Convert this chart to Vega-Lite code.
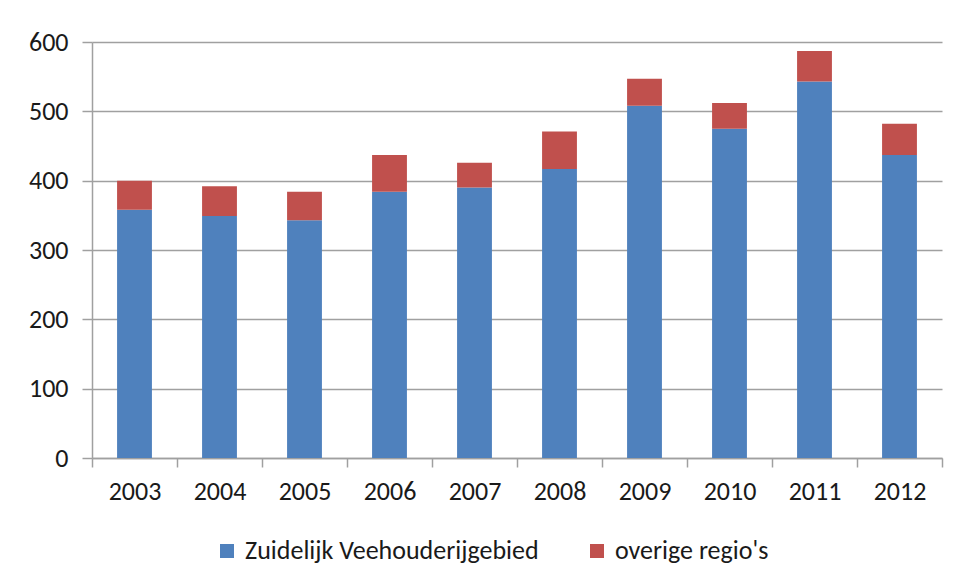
{
  "$schema": "https://vega.github.io/schema/vega-lite/v6.json",
  "width": 850,
  "height": 416,
  "autosize": {"type": "none"},
  "padding": {"left": 92, "top": 42, "right": 17, "bottom": 125},
  "background": "white",
  "data": {
    "values": [
      {"jaar": "2003", "regio": "Zuidelijk Veehouderijgebied", "aantal": 358},
      {"jaar": "2003", "regio": "overige regio's", "aantal": 42},
      {"jaar": "2004", "regio": "Zuidelijk Veehouderijgebied", "aantal": 349},
      {"jaar": "2004", "regio": "overige regio's", "aantal": 43},
      {"jaar": "2005", "regio": "Zuidelijk Veehouderijgebied", "aantal": 343},
      {"jaar": "2005", "regio": "overige regio's", "aantal": 41},
      {"jaar": "2006", "regio": "Zuidelijk Veehouderijgebied", "aantal": 384},
      {"jaar": "2006", "regio": "overige regio's", "aantal": 53},
      {"jaar": "2007", "regio": "Zuidelijk Veehouderijgebied", "aantal": 390},
      {"jaar": "2007", "regio": "overige regio's", "aantal": 36},
      {"jaar": "2008", "regio": "Zuidelijk Veehouderijgebied", "aantal": 417},
      {"jaar": "2008", "regio": "overige regio's", "aantal": 54},
      {"jaar": "2009", "regio": "Zuidelijk Veehouderijgebied", "aantal": 508},
      {"jaar": "2009", "regio": "overige regio's", "aantal": 39},
      {"jaar": "2010", "regio": "Zuidelijk Veehouderijgebied", "aantal": 475},
      {"jaar": "2010", "regio": "overige regio's", "aantal": 37},
      {"jaar": "2011", "regio": "Zuidelijk Veehouderijgebied", "aantal": 543},
      {"jaar": "2011", "regio": "overige regio's", "aantal": 44},
      {"jaar": "2012", "regio": "Zuidelijk Veehouderijgebied", "aantal": 437},
      {"jaar": "2012", "regio": "overige regio's", "aantal": 45}
    ]
  },
  "mark": {"type": "bar", "width": {"band": 0.41}},
  "encoding": {
    "x": {
      "field": "jaar",
      "type": "ordinal",
      "scale": {"paddingInner": 0, "paddingOuter": 0},
      "axis": {
        "title": null,
        "labelAngle": 0,
        "tickBand": "extent",
        "tickSize": 9,
        "tickColor": "#a0a0a0",
        "tickWidth": 1.5,
        "domainColor": "#a0a0a0",
        "domainWidth": 1.5,
        "labelPadding": 11,
        "labelFontSize": 26,
        "labelColor": "#1a1a1a"
      }
    },
    "y": {
      "field": "aantal",
      "type": "quantitative",
      "aggregate": "sum",
      "stack": "zero",
      "scale": {"domain": [0, 600], "nice": false},
      "axis": {
        "title": null,
        "values": [0, 100, 200, 300, 400, 500, 600],
        "tickSize": 10,
        "tickColor": "#a0a0a0",
        "tickWidth": 1.5,
        "domainColor": "#a0a0a0",
        "domainWidth": 1.5,
        "gridColor": "#a0a0a0",
        "gridWidth": 1.5,
        "labelPadding": 14,
        "labelFontSize": 26,
        "labelColor": "#1a1a1a"
      }
    },
    "color": {
      "field": "regio",
      "type": "nominal",
      "scale": {
        "domain": ["Zuidelijk Veehouderijgebied", "overige regio's"],
        "range": ["#4F81BD", "#C0504D"]
      },
      "legend": {
        "title": null,
        "orient": "none",
        "direction": "horizontal",
        "legendX": 122,
        "legendY": 496,
        "padding": 0,
        "symbolType": "square",
        "symbolSize": 196,
        "symbolStrokeWidth": 0,
        "labelFontSize": 26,
        "labelLimit": 0,
        "labelColor": "#1a1a1a",
        "labelOffset": 5,
        "columnPadding": 45
      }
    },
    "order": {"field": "regio", "sort": "ascending"}
  },
  "config": {
    "font": "Carlito, Liberation Sans Narrow, Open Sans, sans-serif",
    "view": {"stroke": null}
  }
}
